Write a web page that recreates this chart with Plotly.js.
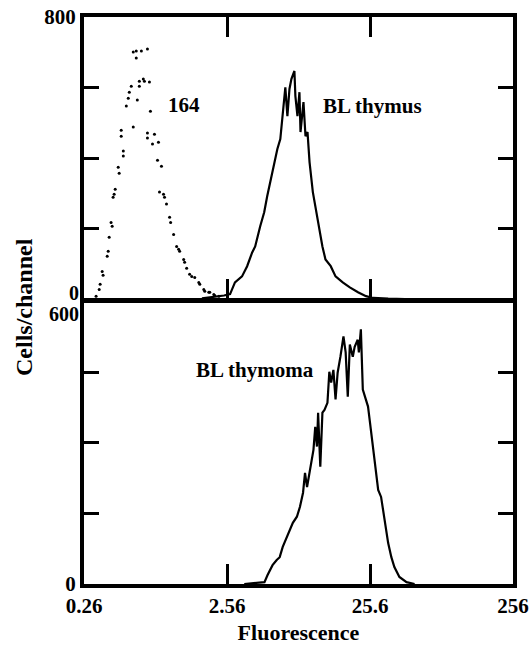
<!DOCTYPE html>
<html>
<head>
<meta charset="utf-8">
<script src="https://cdn.plot.ly/plotly-3.0.1.min.js"></script>
<style>
  html, body { margin: 0; padding: 0; background: #fff; }
  #chart { width: 531px; height: 646px; }
</style>
</head>
<body>
<div id="chart"></div>
<script>
// ---- Data ----
// x-axis ticks (fluorescence, log scale)
const xTickVals = [0.256, 2.56, 25.6, 256];
const xTickText = ['0.26', '2.56', '25.6', '256'];

// Top panel, y ticks
const topTickVals = [0, 200, 400, 600, 800];
const topTickText = ['', '', '', '', '800'];
// Bottom panel, y ticks
const botTickVals = [0, 150, 300, 450, 600];
const botTickText = ['0', '', '', '', ''];

// "164" control (dotted)
const ctrlX = [0.311, 0.327, 0.332, 0.348, 0.343, 0.372, 0.378, 0.384, 0.403, 0.396,
               0.409, 0.416, 0.423, 0.451, 0.444, 0.482, 0.482, 0.466, 0.466, 0.506,
               0.522, 0.531, 0.548, 0.566, 0.604, 0.624, 0.624, 0.665, 0.677, 0.734,
               0.594, 0.566, 0.594, 0.645, 0.711, 0.746, 0.711, 0.711, 0.771, 0.796,
               0.849, 0.836, 0.891, 0.863, 0.921, 0.936, 0.966, 1.016, 1.033, 1.084,
               1.138, 1.175, 1.194, 1.274, 1.294, 1.337, 1.403, 1.452, 1.523, 1.626,
               1.652, 1.762, 1.79, 1.910, 1.94, 2.071, 2.10, 2.249];
const ctrlY = [9, 28, 43, 68, 79, 122, 136, 176, 207, 218,
               289, 298, 312, 357, 374, 406, 420, 462, 479, 548,
               570, 587, 604, 488, 565, 604, 618, 624, 618, 616,
               684, 701, 704, 704, 709, 533, 471, 457, 440, 468,
               445, 394, 377, 304, 298, 289, 270, 233, 218, 184,
               150, 142, 136, 113, 105, 88, 71, 65, 62, 48,
               43, 28, 23, 20, 20, 14, 11, 9];

// "BL thymus" (solid, top panel)
const thymusX = [1.71, 2.00, 2.28, 2.44, 2.69, 2.91, 3.26, 3.54, 3.84, 4.03,
                 4.37, 4.66, 4.89, 5.14, 5.48, 5.76, 6.04, 6.24, 6.45, 6.55,
                 6.77, 7.00, 7.22, 7.58, 7.70, 7.96, 8.22, 8.36, 8.77, 9.06,
                 9.36, 9.67, 10.2, 10.7, 11.4, 11.9, 12.5, 13.6, 14.7, 16.5,
                 18.5, 21.1, 24.0, 26.9, 34.3, 45.0];
const thymusY = [3, 6, 9, 11, 15, 48, 65, 94, 133, 150,
                 207, 247, 292, 332, 377, 426, 454, 519, 567, 601,
                 519, 596, 624, 647, 576, 519, 587, 474, 559, 462,
                 474, 389, 304, 255, 199, 150, 113, 94, 65, 48,
                 34, 20, 9, 4, 2, 1];

// "BL thymoma" (solid, bottom panel)
const thymomaX = [3.38, 3.97, 4.68, 4.92, 5.33, 5.70, 5.98, 6.28, 6.70, 7.04,
                  7.39, 7.89, 8.29, 8.71, 8.99, 9.29, 9.77, 10.1, 10.3, 10.6,
                  10.9, 11.1, 11.5, 11.9, 12.3, 12.9, 13.3, 13.7, 14.2, 14.7,
                  15.2, 15.9, 16.7, 17.3, 17.9, 18.5, 19.4, 20.0, 21.0, 21.4,
                  22.1, 22.8, 23.6, 24.8, 25.6, 26.9, 28.2, 29.2, 30.6, 32.2,
                  34.3, 36.1, 37.9, 41.1, 46.1, 52.5];
const thymomaY = [0, 2, 4, 19, 40, 51, 57, 79, 98, 115,
                  130, 143, 164, 194, 236, 206, 243, 264, 285, 334,
                  292, 364, 249, 364, 370, 385, 451, 428, 455, 392,
                  449, 483, 526, 492, 398, 509, 483, 504, 519, 492,
                  541, 413, 398, 377, 343, 285, 228, 200, 185, 143,
                  87, 57, 36, 15, 4, 0];

// ---- Chart ----
const FONT = 'Liberation Serif, Times New Roman, serif';
const tickFont = { family: FONT, size: 21, color: '#000', weight: 'bold' };
const stackFont = { family: FONT, size: 20, color: '#000', weight: 'bold' };

const traces = [
  { x: ctrlX, y: ctrlY, xaxis: 'x', yaxis: 'y', type: 'scatter', mode: 'markers',
    marker: { color: '#000', size: 3 }, hoverinfo: 'skip' },
  { x: thymusX, y: thymusY, xaxis: 'x', yaxis: 'y', type: 'scatter', mode: 'lines',
    line: { color: '#000', width: 2.2 }, hoverinfo: 'skip' },
  { x: thymomaX, y: thymomaY, xaxis: 'x2', yaxis: 'y2', type: 'scatter', mode: 'lines',
    line: { color: '#000', width: 2.2 }, hoverinfo: 'skip' }
];

const xRange = [Math.log10(0.256), Math.log10(256)];
const common = {
  showline: true, linecolor: '#000', linewidth: 4,
  showgrid: false, zeroline: false,
  ticks: 'inside', tickcolor: '#000', tickwidth: 3
};

const layout = {
  width: 531, height: 646,
  margin: { l: 84, r: 18, t: 17, b: 62 },
  paper_bgcolor: '#fff', plot_bgcolor: '#fff',
  showlegend: false,
  font: { family: FONT, color: '#000' },
  xaxis: Object.assign({}, common, {
    type: 'log', range: xRange, domain: [0, 1], anchor: 'y',
    tickvals: xTickVals, ticktext: xTickText, showticklabels: false,
    ticklen: 20, mirror: 'ticks'
  }),
  yaxis: Object.assign({}, common, {
    range: [0, 800], domain: [0.502, 1], anchor: 'x',
    tickvals: topTickVals, ticktext: topTickText, tickfont: tickFont,
    ticklen: 15, mirror: 'ticks'
  }),
  xaxis2: Object.assign({}, common, {
    type: 'log', range: xRange, domain: [0, 1], anchor: 'y2',
    tickvals: xTickVals, ticktext: xTickText, tickfont: tickFont,
    ticklen: 20, mirror: true,
    title: { text: 'Fluorescence', font: { family: FONT, size: 22, color: '#000', weight: 'bold' }, standoff: 8 }
  }),
  yaxis2: Object.assign({}, common, {
    range: [0, 600], domain: [0, 0.498], anchor: 'x2',
    tickvals: botTickVals, ticktext: botTickText, tickfont: tickFont,
    ticklen: 15, mirror: 'ticks'
  }),
  annotations: [
    { text: '0', xref: 'paper', yref: 'y', x: 0, y: 0, xanchor: 'right', yanchor: 'bottom',
      xshift: -4, yshift: -6, borderpad: 0, showarrow: false, font: stackFont },
    { text: '600', xref: 'paper', yref: 'y2', x: 0, y: 600, xanchor: 'right', yanchor: 'top',
      xshift: -4, yshift: 0, borderpad: 0, showarrow: false, font: stackFont },
    { text: '164', xref: 'paper', yref: 'paper', x: 0.233, y: 0.845, xanchor: 'center', yanchor: 'middle',
      showarrow: false, font: { family: FONT, size: 21, color: '#000', weight: 'bold' } },
    { text: 'BL thymus', xref: 'paper', yref: 'paper', x: 0.672, y: 0.843, xanchor: 'center', yanchor: 'middle',
      showarrow: false, font: { family: FONT, size: 21, color: '#000', weight: 'bold' } },
    { text: 'BL thymoma', xref: 'paper', yref: 'paper', x: 0.398, y: 0.377, xanchor: 'center', yanchor: 'middle',
      showarrow: false, font: { family: FONT, size: 21, color: '#000', weight: 'bold' } },
    { text: 'Cells/channel', xref: 'paper', yref: 'paper', x: -0.14, y: 0.4885, xanchor: 'center', yanchor: 'middle',
      textangle: -90, showarrow: false, font: { family: FONT, size: 24, color: '#000', weight: 'bold' } }
  ]
};

Plotly.newPlot('chart', traces, layout, { displayModeBar: false, staticPlot: true });
</script>
</body>
</html>
